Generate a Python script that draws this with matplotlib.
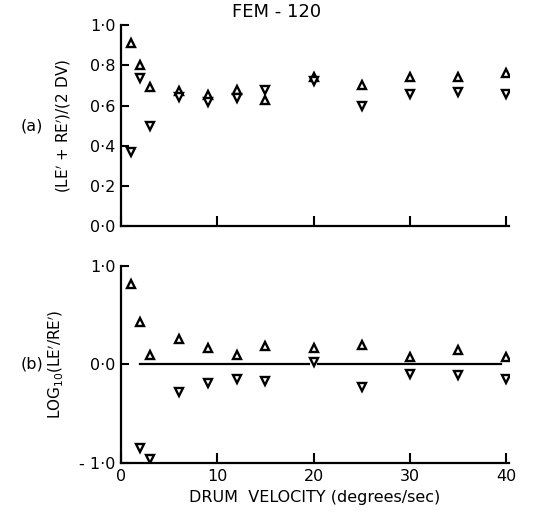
import matplotlib
matplotlib.use("Agg")
import matplotlib.pyplot as plt

# drum velocities (degrees/sec)
velocity = [1, 2, 3, 6, 9, 12, 15, 20, 25, 30, 35, 40]

# panel (a): (LE' + RE')/(2 DV)
gain_up = [0.91, 0.80, 0.69, 0.675, 0.655, 0.68, 0.63, 0.74, 0.70, 0.74, 0.74, 0.76]
gain_down = [0.37, 0.735, 0.50, 0.645, 0.62, 0.64, 0.68, 0.72, 0.60, 0.66, 0.67, 0.66]

# panel (b): log10(LE'/RE')
log_up = [0.81, 0.43, 0.10, 0.26, 0.17, 0.10, 0.19, 0.17, 0.20, 0.07, 0.15, 0.07]
log_down_v = [2, 3, 6, 9, 12, 15, 20, 25, 30, 35, 40]
log_down = [-0.85, -0.96, -0.28, -0.19, -0.15, -0.17, 0.02, -0.23, -0.10, -0.11, -0.15]

a_ticks = [0.0, 0.2, 0.4, 0.6, 0.8, 1.0]
b_ticks = [-1.0, 0.0, 1.0]
x_ticks = [0, 10, 20, 30, 40]

plt.rcParams['font.family'] = ['DejaVu Sans']

fig = plt.figure(figsize=(5.45, 5.15), dpi=100)
ax_a = fig.add_axes([0.222, 0.561, 0.712, 0.390])
ax_b = fig.add_axes([0.222, 0.101, 0.712, 0.383])

mk = dict(linestyle='none', markersize=6, markerfacecolor='white',
          markeredgecolor='black', markeredgewidth=1.7)


def fmt(v):
    s = f"{v:.1f}".replace('.', '\u00b7')
    return s.replace('-', '- ')


for ax in (ax_a, ax_b):
    ax.spines['top'].set_visible(False)
    ax.spines['right'].set_visible(False)
    ax.spines['left'].set_linewidth(1.6)
    ax.spines['bottom'].set_linewidth(1.6)
    ax.set_xlim(0, 40.3)
    ax.set_xticks(x_ticks)
    ax.tick_params(direction='in', length=6, width=1.5, labelsize=11.5, pad=4)

ax_a.plot(velocity, gain_up, marker='^', **mk)
ax_a.plot(velocity, gain_down, marker='v', **mk)
ax_a.set_ylim(0, 1.0)
ax_a.set_yticks(a_ticks)
ax_a.set_yticklabels([fmt(t) for t in a_ticks])
ax_a.set_xticklabels([])
ax_a.tick_params(axis='x', length=7)
ax_a.set_ylabel("(LE$^{\\prime}$ + RE$^{\\prime}$)/(2 DV)", fontsize=11, labelpad=12)
ax_a.text(-0.23, 0.5, "(a)", transform=ax_a.transAxes, fontsize=11.5,
          ha='center', va='center')
ax_a.set_title("FEM - 120", fontsize=13, pad=6, x=0.40)

ax_b.plot([2, 19.5], [0, 0], color='black', lw=1.6)
ax_b.plot([20.5, 39.5], [0, 0], color='black', lw=1.6)
ax_b.plot(velocity, log_up, marker='^', **mk)
ax_b.plot(log_down_v, log_down, marker='v', **mk)
ax_b.set_ylim(-1.0, 1.0)
ax_b.set_yticks(b_ticks)
ax_b.set_yticklabels([fmt(t) for t in b_ticks])
ax_b.set_xticklabels([str(t) for t in x_ticks])
ax_b.tick_params(axis='x', length=7)
ax_b.set_ylabel("LOG$_{10}$(LE$^{\\prime}$/RE$^{\\prime}$)", fontsize=11, labelpad=10)
ax_b.set_xlabel("DRUM  VELOCITY (degrees/sec)", fontsize=11.5, labelpad=5)
ax_b.text(-0.23, 0.5, "(b)", transform=ax_b.transAxes, fontsize=11.5,
          ha='center', va='center')

fig.savefig("out.png", dpi=100)
